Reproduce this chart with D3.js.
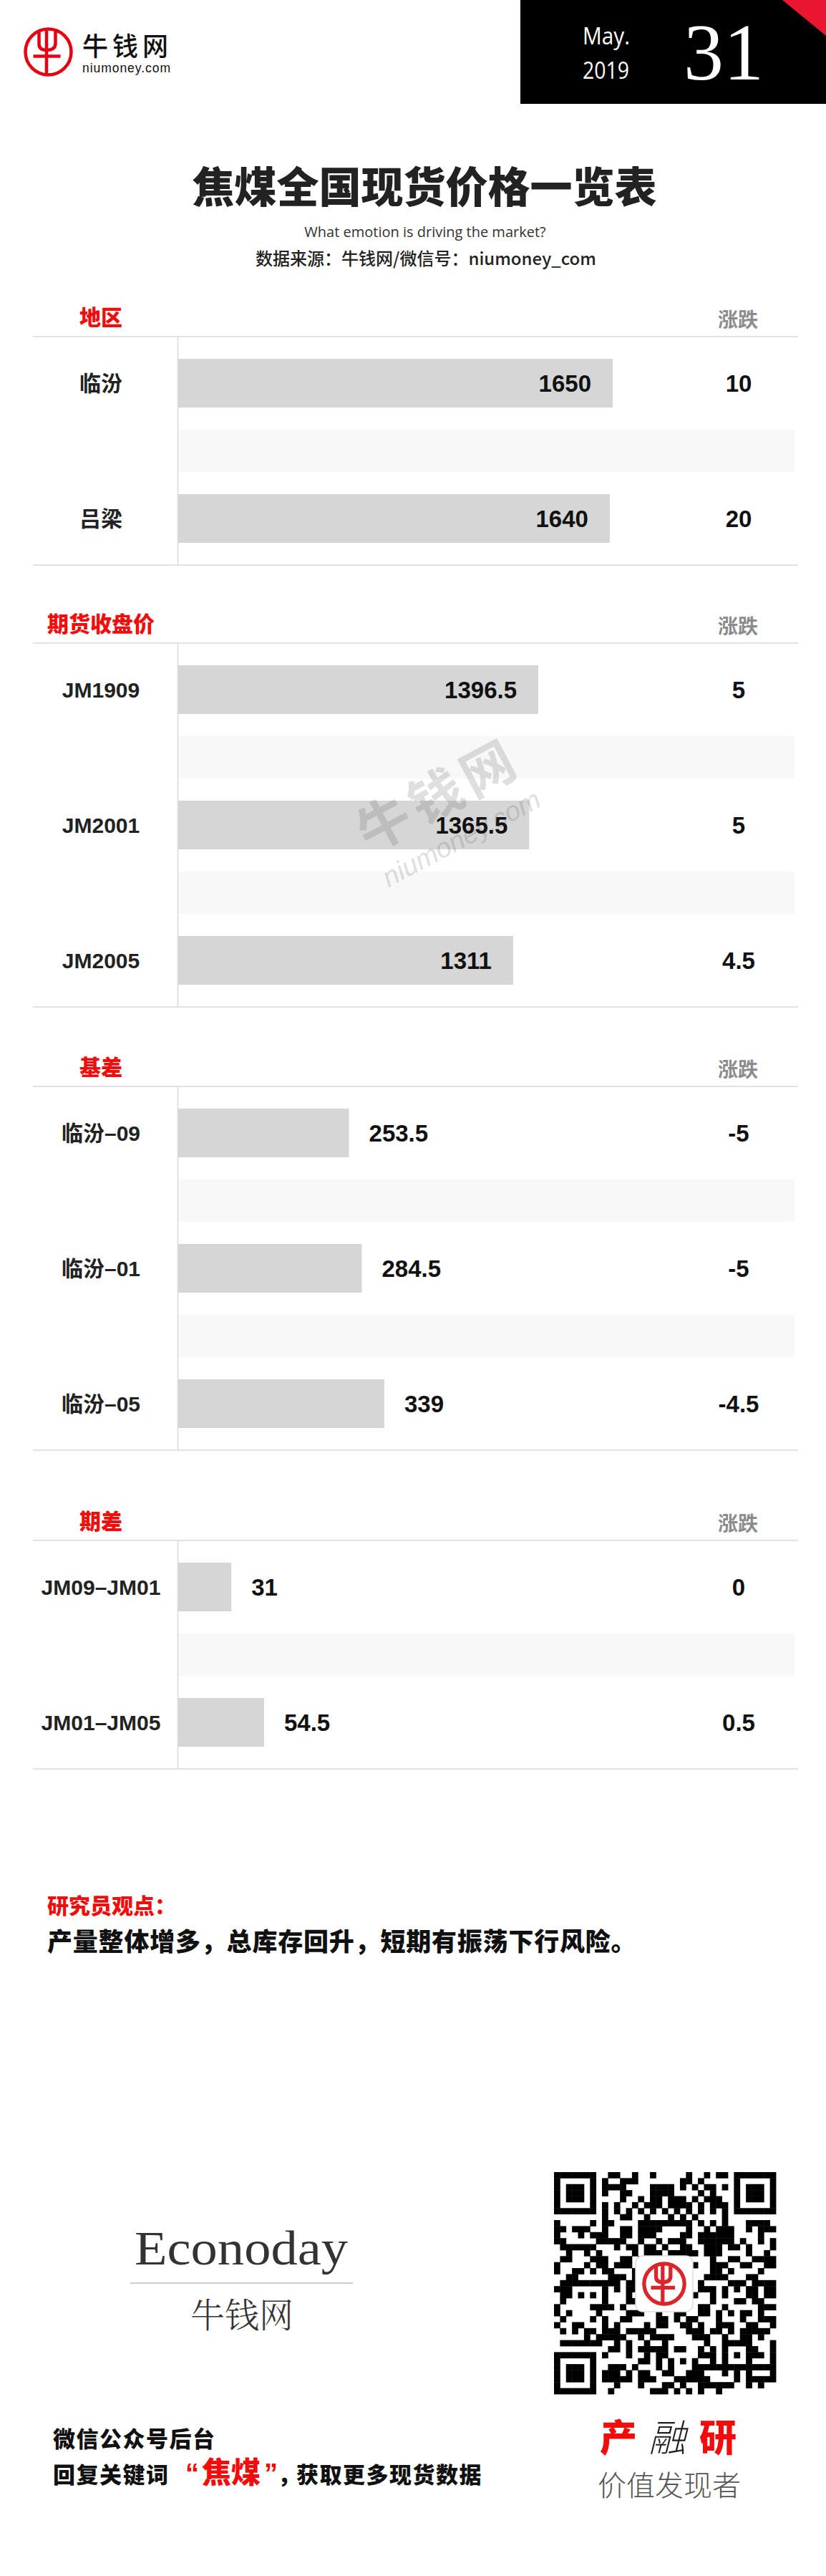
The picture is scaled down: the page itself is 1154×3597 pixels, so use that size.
<!DOCTYPE html>
<html><head><meta charset="utf-8">
<script src="https://cdn.jsdelivr.net/npm/d3@7"></script>
<style>body{margin:0;background:#fff} svg{display:block}</style>
</head><body><svg id="c" width="1154" height="3597"></svg>
<script>
// ---------- data ----------
const sectionTitles = ["地区", "期货收盘价", "基差", "期差"];
const changeHeader = "涨跌";
const regionCats = ["临汾", "吕梁"];
const regionVals = [1650, 1640];
const regionChg = [10, 20];
const futuresCats = ["JM1909", "JM2001", "JM2005"];
const futuresVals = [1396.5, 1365.5, 1311];
const futuresChg = [5, 5, 4.5];
const basisCats = ["临汾–09", "临汾–01", "临汾–05"];
const basisVals = [253.5, 284.5, 339];
const basisChg = [-5, -5, -4.5];
const spreadCats = ["JM09–JM01", "JM01–JM05"];
const spreadVals = [31, 54.5];
const spreadChg = [0, 0.5];
const titleText = "焦煤全国现货价格一览表";
const subtitleText = "What emotion is driving the market?";
const sourceText = "数据来源：牛钱网/微信号：niumoney_com";
const monthText = "May.", yearText = "2019", dayText = "31";
const viewTitle = "研究员观点：";
const viewText = "产量整体增多，总库存回升，短期有振荡下行风险。";

// ---------- setup ----------
const svg = d3.select("#c");
const CJK = '"Noto Sans CJK SC", sans-serif';
const LAT = '"Liberation Sans", "Noto Sans CJK SC", sans-serif';
const RED = "#f20d0d";
svg.append("rect").attr("width", 1154).attr("height", 3597).attr("fill", "#fff");

// logo helper
function drawLogo(g, cx, cy, s, color, sw) {
  const lg = g.append("g").attr("transform", `translate(${cx},${cy}) scale(${s})`)
    .attr("fill", "none").attr("stroke", color).attr("stroke-width", sw);
  lg.append("circle").attr("r", 32);
  lg.append("path").attr("d", "M-13,-29 L-13,-11 Q-13,-2.5 -2.5,-2.5 Q10,-2.5 10,-12 L10,-29");
  lg.append("line").attr("x1", -2.5).attr("x2", -2.5).attr("y1", -30).attr("y2", 31);
  lg.append("line").attr("x1", -21).attr("x2", 17).attr("y1", 6).attr("y2", 6);
}

// ---------- top header ----------
drawLogo(svg, 67.5, 72.5, 1, "#e60012", 4.5);
svg.append("text").attr("x", 115).attr("y", 78).attr("font-family", CJK).attr("font-weight", 500)
  .attr("font-size", 36).attr("fill", "#111").attr("textLength", 120).text("牛钱网");
svg.append("text").attr("x", 115).attr("y", 101).attr("font-family", '"Liberation Sans", sans-serif')
  .attr("font-size", 17.5).attr("fill", "#111").attr("textLength", 123).text("niumoney.com");

svg.append("rect").attr("x", 727).attr("y", 0).attr("width", 427).attr("height", 145).attr("fill", "#000");
svg.append("polygon").attr("points", "1093,0 1154,0 1154,50").attr("fill", "#ea1530");
svg.append("text").attr("x", 814).attr("y", 62).attr("font-family", '"Open Sans", sans-serif')
  .attr("font-size", 33).attr("fill", "#fff").attr("textLength", 66).attr("lengthAdjust", "spacingAndGlyphs").text(monthText);
svg.append("text").attr("x", 814).attr("y", 110).attr("font-family", '"Open Sans", sans-serif')
  .attr("font-size", 33).attr("fill", "#fff").attr("textLength", 65).attr("lengthAdjust", "spacingAndGlyphs").text(yearText);
svg.append("text").attr("x", 955).attr("y", 111).attr("font-family", '"Liberation Serif", serif')
  .attr("font-size", 112).attr("fill", "#fff").text(dayText);

// ---------- titles ----------
svg.append("text").attr("x", 593).attr("y", 283).attr("text-anchor", "middle").attr("font-family", CJK)
  .attr("font-weight", 900).attr("font-size", 59).attr("fill", "#222").text(titleText);
svg.append("text").attr("x", 594).attr("y", 331).attr("text-anchor", "middle").attr("font-family", '"Open Sans", sans-serif')
  .attr("font-size", 20).attr("fill", "#333").text(subtitleText);
svg.append("text").attr("x", 595).attr("y", 370).attr("text-anchor", "middle").attr("font-family", CJK)
  .attr("font-weight", 500).attr("font-size", 24).attr("fill", "#222").text(sourceText);

// ---------- sections ----------
const sections = [
  {title: sectionTitles[0], cats: regionCats, vals: regionVals, chg: regionChg, top: 470, domain: [170, 1650], w: 607},
  {title: sectionTitles[1], cats: futuresCats, vals: futuresVals, chg: futuresChg, top: 898, domain: [170, 1650], w: 607},
  {title: sectionTitles[2], cats: basisCats, vals: basisVals, chg: basisChg, top: 1517, domain: [-159, 339], w: 288},
  {title: sectionTitles[3], cats: spreadCats, vals: spreadVals, chg: spreadChg, top: 2151, domain: [-7, 54.5], w: 120}
];
const X0 = 249, STEP = 189, LINE = "#d9d9d9";

sections.forEach(sec => {
  const n = sec.cats.length;
  const bottom = sec.top + n * STEP - 59;
  const y = d3.scaleBand().domain(sec.cats).range([sec.top, bottom]).paddingInner(0.64).paddingOuter(0.164);
  const x = d3.scaleLinear().domain(sec.domain).range([X0, X0 + sec.w]);
  const g = svg.append("g");
  const rows = sec.cats.map((c, i) => ({cat: c, val: sec.vals[i], chg: sec.chg[i]}));

  // stripes between bars
  g.selectAll("rect.stripe").data(rows.slice(0, -1)).join("rect").attr("class", "stripe")
    .attr("x", X0).attr("width", 1110 - X0)
    .attr("y", d => y(d.cat) + y.bandwidth() + 31).attr("height", 59).attr("fill", "#f8f8f8");

  // header texts
  g.append("text").attr("x", 141).attr("y", sec.top - 16).attr("text-anchor", "middle").attr("font-family", CJK)
    .attr("font-weight", 900).attr("font-size", 30).attr("fill", RED).text(sec.title);
  g.append("text").attr("x", 1031).attr("y", sec.top - 13).attr("text-anchor", "middle").attr("font-family", CJK)
    .attr("font-weight", 700).attr("font-size", 28).attr("fill", "#8c8c8c").text(changeHeader);

  // lines
  g.append("line").attr("x1", 46).attr("x2", 1115).attr("y1", sec.top).attr("y2", sec.top).attr("stroke", LINE).attr("stroke-width", 1.5);
  g.append("line").attr("x1", 46).attr("x2", 1115).attr("y1", bottom).attr("y2", bottom).attr("stroke", LINE).attr("stroke-width", 1.5);
  g.append("line").attr("x1", X0 - 0.5).attr("x2", X0 - 0.5).attr("y1", sec.top).attr("y2", bottom).attr("stroke", LINE).attr("stroke-width", 1.5);

  // bars
  g.selectAll("rect.bar").data(rows).join("rect").attr("class", "bar")
    .attr("x", X0).attr("y", d => y(d.cat)).attr("height", y.bandwidth())
    .attr("width", d => x(d.val) - X0).attr("fill", "#d6d6d6");

  // category labels
  g.selectAll("text.cat").data(rows).join("text").attr("class", "cat")
    .attr("x", 141).attr("y", d => y(d.cat) + y.bandwidth() / 2 + 11).attr("text-anchor", "middle")
    .attr("font-family", LAT).attr("font-weight", 700).attr("font-size", 30).attr("fill", "#222").text(d => d.cat);

  // values
  g.selectAll("text.val").data(rows).join("text").attr("class", "val")
    .attr("x", d => (x(d.val) - X0 > 300) ? x(d.val) - 30 : x(d.val) + 28)
    .attr("text-anchor", d => (x(d.val) - X0 > 300) ? "end" : "start")
    .attr("y", d => y(d.cat) + y.bandwidth() / 2 + 12)
    .attr("font-family", LAT).attr("font-weight", 700).attr("font-size", 33).attr("fill", "#111").text(d => String(d.val));

  // changes
  g.selectAll("text.chg").data(rows).join("text").attr("class", "chg")
    .attr("x", 1032).attr("y", d => y(d.cat) + y.bandwidth() / 2 + 12).attr("text-anchor", "middle")
    .attr("font-family", LAT).attr("font-weight", 700).attr("font-size", 33).attr("fill", "#111").text(d => String(d.chg));
});

// watermark
const wm = svg.append("g").attr("transform", "translate(613,1111) rotate(-28)").attr("fill", "#333").attr("opacity", 0.15);
wm.append("text").attr("text-anchor", "middle").attr("dy", "0.35em").attr("font-family", CJK).attr("font-weight", 700)
  .attr("font-size", 74).attr("letter-spacing", 8).text("牛钱网");
wm.append("text").attr("y", 67).attr("text-anchor", "middle").attr("dy", "0.35em").attr("font-family", '"Liberation Sans", sans-serif')
  .attr("font-size", 38).attr("font-style", "italic").text("niumoney.com");

// ---------- view ----------
svg.append("text").attr("x", 66).attr("y", 2672).attr("font-family", CJK).attr("font-weight", 900)
  .attr("font-size", 30).attr("fill", RED).text(viewTitle);
svg.append("text").attr("x", 66).attr("y", 2724).attr("font-family", CJK).attr("font-weight", 900)
  .attr("font-size", 35).attr("letter-spacing", 0.8).attr("fill", "#111").text(viewText);

// ---------- footer ----------
svg.append("text").attr("x", 337).attr("y", 3162).attr("text-anchor", "middle").attr("font-family", '"Liberation Serif", serif')
  .attr("font-size", 68).attr("fill", "#333").attr("textLength", 298).attr("lengthAdjust", "spacingAndGlyphs").text("Econoday");
svg.append("line").attr("x1", 182).attr("x2", 493).attr("y1", 3188).attr("y2", 3188).attr("stroke", "#ccc").attr("stroke-width", 2);
svg.append("text").attr("x", 338).attr("y", 3250).attr("text-anchor", "middle").attr("font-family", '"Noto Serif CJK SC", "Noto Sans CJK SC", serif')
  .attr("font-weight", 300).attr("font-size", 48).attr("fill", "#333").text("牛钱网");

svg.append("text").attr("x", 74).attr("y", 3417).attr("font-family", CJK).attr("font-weight", 900)
  .attr("font-size", 31).attr("letter-spacing", 1.5).attr("fill", "#111").text("微信公众号后台");
const kw = svg.append("text").attr("y", 3467).attr("font-family", CJK).attr("font-weight", 900).attr("font-size", 31).attr("fill", "#111");
kw.append("tspan").attr("x", 74).attr("letter-spacing", 1.5).text("回复关键词");
kw.append("tspan").attr("x", 259).attr("font-family", '"Liberation Sans", sans-serif').attr("font-size", 38).attr("fill", RED).text("“");
kw.append("tspan").attr("x", 282).attr("font-size", 41).attr("fill", RED).text("焦煤");
kw.append("tspan").attr("x", 369).attr("font-family", '"Liberation Sans", sans-serif').attr("font-size", 38).attr("fill", RED).text("”");
kw.append("tspan").attr("x", 388).text("，");
kw.append("tspan").attr("x", 414).attr("letter-spacing", 1.5).text("获取更多现货数据");

const crr = svg.append("text").attr("y", 3423).attr("font-family", CJK).attr("font-weight", 900).attr("font-size", 52);
crr.append("tspan").attr("x", 838).attr("fill", RED).text("产");
crr.append("tspan").attr("x", 906).attr("fill", "#222").attr("font-weight", 300).attr("font-style", "italic").text("融");
crr.append("tspan").attr("x", 977).attr("fill", RED).text("研");
svg.append("text").attr("x", 935).attr("y", 3485).attr("text-anchor", "middle").attr("font-family", CJK)
  .attr("font-weight", 300).attr("font-size", 40).attr("fill", "#555").text("价值发现者");

// QR-like code
const N = 37, qx = 774, qy = 3033, ms = 310 / N;
function hashDark(r, c) {
  let h = Math.imul(r + 11, 374761393) ^ Math.imul(c + 7, 668265263);
  h = Math.imul(h ^ (h >>> 13), 1274126177);
  h = h ^ (h >>> 16);
  return ((h >>> 0) % 100) < 50;
}
const mods = [];
const finders = [[0, 0], [0, 30], [30, 0]];
for (let r = 0; r < N; r++) for (let c = 0; c < N; c++) {
  let dark = null;
  for (const [fr, fc] of finders) {
    const dr = r - fr, dc = c - fc;
    if (dr >= -1 && dr <= 7 && dc >= -1 && dc <= 7) {
      const d = Math.max(Math.abs(dr - 3), Math.abs(dc - 3));
      dark = (d <= 3 && d !== 2);
    }
  }
  if (dark === null) {
    const da = Math.max(Math.abs(r - 30), Math.abs(c - 30));
    if (da <= 2) dark = (da !== 1);
    else if (r === 6) dark = c % 2 === 0;
    else if (c === 6) dark = r % 2 === 0;
    else dark = hashDark(r, c);
  }
  if (dark) mods.push([r, c]);
}
svg.append("g").selectAll("rect").data(mods).join("rect")
  .attr("x", d => qx + d[1] * ms).attr("y", d => qy + d[0] * ms)
  .attr("width", ms + 0.4).attr("height", ms + 0.4).attr("fill", "#000");
svg.append("rect").attr("x", 888).attr("y", 3150).attr("width", 80).attr("height", 78).attr("rx", 10)
  .attr("fill", "#fff").attr("stroke", "#ddd").attr("stroke-width", 1.5);
drawLogo(svg, 928, 3189, 0.88, "#d9252b", 6);
</script></body></html>
